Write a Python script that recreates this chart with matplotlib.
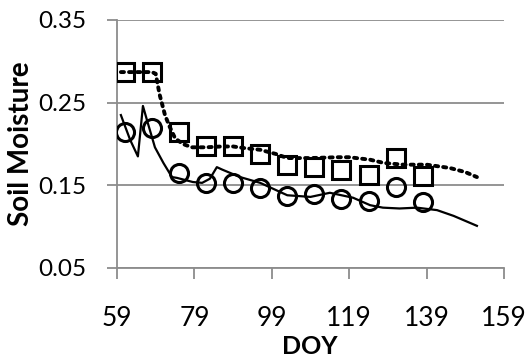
import matplotlib
matplotlib.use("Agg")
import matplotlib.pyplot as plt

# observed (markers), every 7 days
obs_doy = [61, 68, 75, 82, 89, 96, 103, 110, 117, 124, 131, 138]
obs_square = [0.287, 0.287, 0.215, 0.197, 0.198, 0.188, 0.175, 0.172, 0.169, 0.163, 0.183, 0.161]
obs_circle = [0.215, 0.219, 0.165, 0.153, 0.153, 0.147, 0.137, 0.140, 0.133, 0.131, 0.148, 0.130]

# simulated (dotted line, goes with squares)
sim_dot_doy = [60, 64, 68, 69, 70, 71.4, 72.5, 74, 76, 78.4, 82, 86, 89, 92, 96, 100,
               103, 109, 116, 119, 124.4, 128, 133, 139, 145, 149, 152]
sim_dot = [0.287, 0.287, 0.287, 0.285, 0.260, 0.235, 0.222, 0.207, 0.200, 0.196, 0.196,
           0.197, 0.197, 0.195, 0.193, 0.188, 0.183, 0.183, 0.184, 0.184, 0.181, 0.177,
           0.175, 0.175, 0.171, 0.166, 0.160]

# simulated (solid line, goes with circles)
sim_solid_doy = [60, 62.4, 64.4, 65.7, 66.8, 68.8, 71, 73.2, 74.5, 78.6, 81, 83, 84.8, 86.2,
                 90.8, 96, 103, 109, 114, 120, 124.4, 127.7, 132, 136.5, 141.7, 146, 152]
sim_solid = [0.235, 0.205, 0.185, 0.246, 0.228, 0.196, 0.177, 0.160, 0.159, 0.154, 0.153,
             0.158, 0.172, 0.169, 0.160, 0.153, 0.138, 0.136, 0.141, 0.135, 0.126, 0.123,
             0.122, 0.123, 0.120, 0.113, 0.101]

x_ticks = [59, 79, 99, 119, 139, 159]
y_ticks = [0.05, 0.15, 0.25, 0.35]

plt.rcParams['font.family'] = ['Lato', 'DejaVu Sans']

fig = plt.figure(figsize=(5.28, 3.6), dpi=100)
ax = fig.add_axes([117 / 528, 1 - 268 / 360, (504 - 117) / 528, (268 - 20) / 360])

ax.plot(sim_dot_doy, sim_dot, color="black", lw=2.8, linestyle=(0, (0.8, 1.3)),
        dash_capstyle="round", zorder=3)
ax.plot(sim_solid_doy, sim_solid, color="black", lw=1.6, zorder=3)
ax.plot(obs_doy, obs_square, linestyle="none", marker="s", markersize=12.5,
        markerfacecolor="none", markeredgecolor="black", markeredgewidth=2.2, zorder=4)
ax.plot(obs_doy, obs_circle, linestyle="none", marker="o", markersize=13,
        markerfacecolor="none", markeredgecolor="black", markeredgewidth=2.2, zorder=4)

ax.set_xlim(59, 159)
ax.set_ylim(0.05, 0.35)
ax.set_xticks(x_ticks)
ax.set_xticklabels([str(t) for t in x_ticks], fontsize=19)
ax.set_yticks(y_ticks)
ax.set_yticklabels([f"{t:.2f}" for t in y_ticks], fontsize=17.5)

ax.grid(axis="y", color="#8c8c8c", lw=1.3, zorder=0)
for side in ["top", "right"]:
    ax.spines[side].set_visible(False)
for side in ["left", "bottom"]:
    ax.spines[side].set_color("#8c8c8c")
    ax.spines[side].set_linewidth(1.3)
ax.tick_params(axis="x", length=8, width=1.3, color="#8c8c8c", pad=19)
ax.tick_params(axis="y", length=7, width=1.3, color="#8c8c8c", pad=15)

fig.text(310 / 528, 2 / 360, "DOY", fontsize=18, fontweight="bold",
         ha="center", va="bottom")
fig.text(21 / 528, 1 - 144 / 360, "Soil Moisture", fontsize=20, fontweight="bold",
         rotation=90, ha="center", va="center")

fig.savefig("out.png", dpi=100)
